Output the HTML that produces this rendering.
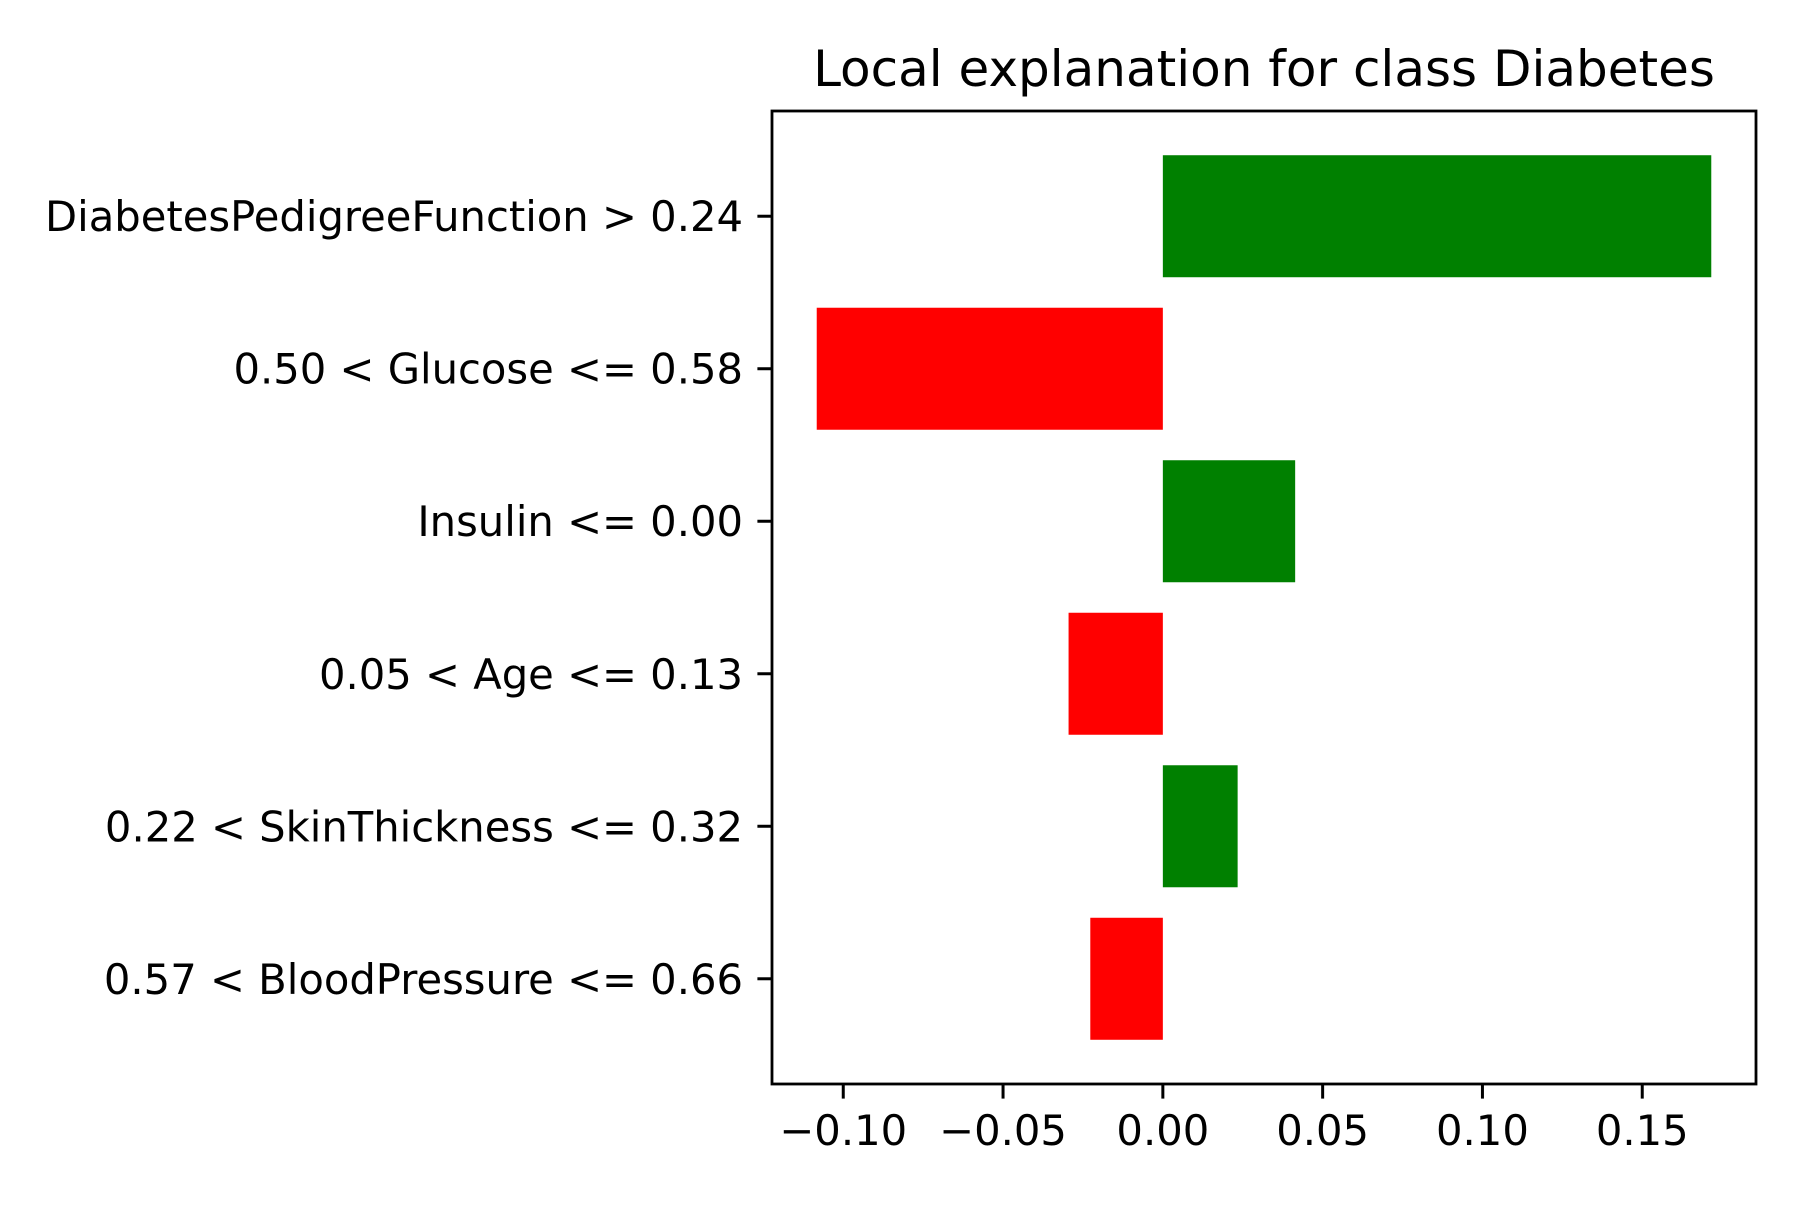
<!DOCTYPE html>
<html><head><meta charset="utf-8"><style>
html,body{margin:0;padding:0;background:#fff}
svg text{font-family:"DejaVu Sans","Liberation Sans",sans-serif;fill:#000}
</style></head><body>
<svg id="chart" width="1800" height="1200" xmlns="http://www.w3.org/2000/svg">
<rect width="1800" height="1200" fill="#fff"/>
<g id="bars"></g>
<g id="yticks"></g>
<g id="xticks"></g>
<rect x="772" y="111" width="984" height="973" fill="none" stroke="#000" stroke-width="2.8"/>
<text x="1264" y="86" font-size="50" text-anchor="middle">Local explanation for class Diabetes</text>
</svg>
<script>
const categories = ["DiabetesPedigreeFunction > 0.24","0.50 < Glucose <= 0.58","Insulin <= 0.00","0.05 < Age <= 0.13","0.22 < SkinThickness <= 0.32","0.57 < BloodPressure <= 0.66"];
const values = [0.1716,-0.1083,0.0414,-0.0295,0.0234,-0.0227];
const xTicks = [-0.10,-0.05,0.00,0.05,0.10,0.15];
const xTickLabels = ["\u22120.10","\u22120.05","0.00","0.05","0.10","0.15"];

const NS="http://www.w3.org/2000/svg";
const plotLeft=772,plotRight=1756,plotTop=111,plotBottom=1084;
const vmin=Math.min(0,...values),vmax=Math.max(0,...values);
const pad=(vmax-vmin)*0.05;
const xmin=vmin-pad,xmax=vmax+pad;
function xs(v){return plotLeft+(v-xmin)/(xmax-xmin)*(plotRight-plotLeft);}
const n=categories.length;
const ylo=-0.4-(n-0.2)*0.05, yhi=n-1+0.4+(n-0.2)*0.05;
function ys(i){return plotTop+(i-ylo)/(yhi-ylo)*(plotBottom-plotTop);}
const bw=(plotBottom-plotTop)/(yhi-ylo)*0.8;
function mk(t,a){const e=document.createElementNS(NS,t);for(const k in a)e.setAttribute(k,a[k]);return e;}
const gb=document.getElementById('bars'),gy=document.getElementById('yticks'),gx=document.getElementById('xticks');
categories.forEach((c,i)=>{
  const v=values[i],cy=ys(i),x0=xs(0),x1=xs(v);
  const r=mk('rect',{x:Math.min(x0,x1),y:cy-bw/2,width:Math.abs(x1-x0),height:bw,fill:v>=0?'#008000':'#ff0000'});
  
  
  gb.appendChild(r);
  const tk=mk('line',{x1:plotLeft-14.6,x2:plotLeft,y1:cy,y2:cy,stroke:'#000','stroke-width':3});
  
  
  gy.appendChild(tk);
  const t=mk('text',{x:plotLeft-29,y:cy+15,'font-size':41.7,'text-anchor':'end'});
  t.textContent=c;
  
  
  gy.appendChild(t);
});
xTicks.forEach((v,i)=>{
  const x=xs(v);
  const tk=mk('line',{x1:x,x2:x,y1:plotBottom,y2:plotBottom+14.6,stroke:'#000','stroke-width':3});
  
  
  gx.appendChild(tk);
  const t=mk('text',{x:x,y:plotBottom+61,'font-size':41.7,'text-anchor':'middle'});
  t.textContent=xTickLabels[i];
  
  
  gx.appendChild(t);
});
</script>
</body></html>
